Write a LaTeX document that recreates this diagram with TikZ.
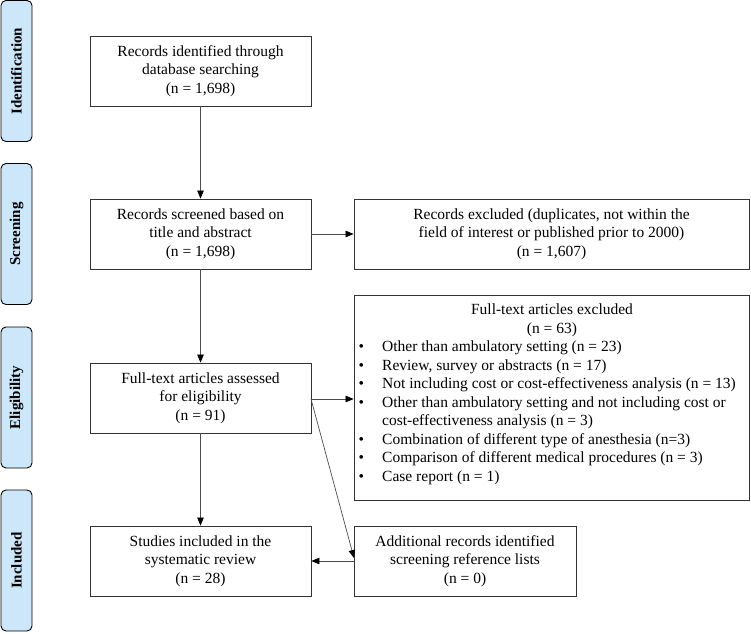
\documentclass[tikz,border=0pt]{standalone}
\usepackage{fontspec}
\setmainfont{Liberation Serif}
\usetikzlibrary{arrows.meta}
\definecolor{lblue}{RGB}{204,230,250}
\tikzset{
  flowbox/.style={draw=black!80, line width=0.8pt, inner sep=0pt, align=center,
    font=\fontsize{15.5}{18.5}\selectfont},
  stagebox/.style={draw=black, fill=lblue, line width=0.9pt, rounded corners=5pt,
    minimum width=31pt, minimum height=141pt, inner sep=0pt},
  stagetext/.style={rotate=90, font=\fontsize{15}{18}\selectfont\bfseries, inner sep=0pt},
  txt/.style={inner sep=0pt, font=\fontsize{15.5}{18.5}\selectfont},
  arr/.style={draw=black!70, line width=0.7pt, -{Triangle[length=8pt,width=6.5pt,fill=black,color=black]}}
}
\begin{document}
\begin{tikzpicture}[x=1pt,y=-1pt]
\useasboundingbox (0,0) rectangle (751,633);
% stage labels
\node[stagebox] (s1) at (16.5,71) {};
\node[stagetext] (s1t) at (s1) {Identification};
\node[stagebox] (s2) at (16.5,234) {};
\node[stagetext] (s2t) at (s2) {Screening};
\node[stagebox] (s3) at (16.5,397.5) {};
\node[stagetext] (s3t) at (s3) {Eligibility};
\node[stagebox] (s4) at (16.5,560.5) {};
\node[stagetext] (s4t) at (s4) {Included};
% flow boxes
\node[flowbox, minimum width=221pt, minimum height=70pt] (id) at (200.5,71)
  {Records identified through\\database searching\\(n = 1,698)};
\node[flowbox, minimum width=221pt, minimum height=70pt] (scr) at (200.5,234)
  {Records screened based on\\title and abstract\\(n = 1,698)};
\node[flowbox, minimum width=395pt, minimum height=70pt] (exc) at (551.5,234)
  {Records excluded (duplicates, not within the\\field of interest or published prior to 2000)\\(n = 1,607)};
\node[flowbox, minimum width=221pt, minimum height=70pt] (eli) at (200.5,398)
  {Full-text articles assessed\\for eligibility\\(n = 91)};
\node[flowbox, minimum width=395pt, minimum height=205pt] (ftx) at (551.5,397.5) {};
\node[txt, align=center, anchor=north] (ftxh) at (552,304)
  {Full-text articles excluded\\(n = 63)};
\node[txt, align=left, anchor=north west] (ftxl) at (358.5,341)
  {\makebox[23.5pt][l]{\textbullet}Other than ambulatory setting (n = 23)\\
   \makebox[23.5pt][l]{\textbullet}Review, survey or abstracts (n = 17)\\
   \makebox[23.5pt][l]{\textbullet}Not including cost or cost-effectiveness analysis (n = 13)\\
   \makebox[23.5pt][l]{\textbullet}Other than ambulatory setting and not including cost or\\
   \hspace*{23.5pt}cost-effectiveness analysis (n = 3)\\
   \makebox[23.5pt][l]{\textbullet}Combination of different type of anesthesia (n=3)\\
   \makebox[23.5pt][l]{\textbullet}Comparison of different medical procedures (n = 3)\\
   \makebox[23.5pt][l]{\textbullet}Case report (n = 1)};
\node[flowbox, minimum width=221pt, minimum height=70pt] (inc) at (200.5,561)
  {Studies included in the\\systematic review\\(n = 28)};
\node[flowbox, minimum width=222pt, minimum height=70pt] (add) at (465,561)
  {Additional records identified\\screening reference lists\\(n = 0)};
% connectors
\coordinate (eliR) at (311,399);
\coordinate (addL) at (354,558);
\draw[arr] (id.south) -- (scr.north);
\draw[arr] (scr.south) -- (eli.north);
\draw[arr] (eli.south) -- (inc.north);
\draw[arr] (scr.east) -- (exc.west);
\draw[arr] (eliR) -- (ftx.west |- eliR);
\draw[arr] (eliR) -- (addL);
\draw[arr] (add.west) -- (inc.east);
\end{tikzpicture}
\end{document}
